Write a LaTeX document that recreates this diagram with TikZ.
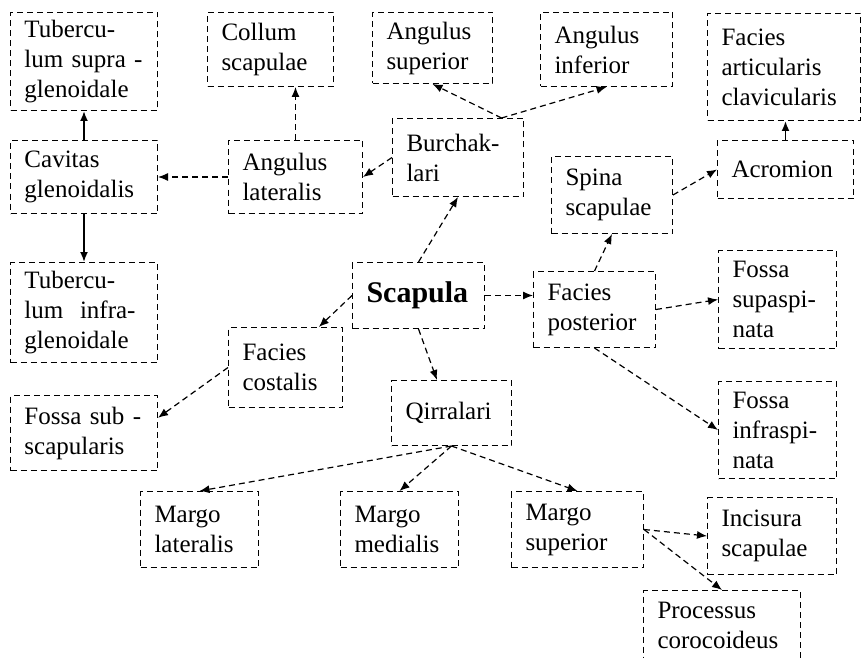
\documentclass[tikz,border=0pt]{standalone}
\usepackage{fontspec}
\setmainfont{Liberation Serif}
\usetikzlibrary{calc,arrows.meta}

\begin{document}
\begin{tikzpicture}[x=0.5pt,y=-0.5pt,
    box/.style 2 args={draw, densely dashed, line width=0.5pt, anchor=north west, align=left,
        inner xsep=7pt, inner ysep=1pt, text width=#1-4pt, minimum height=#2,
        font=\fontsize{12.5}{15}\selectfont},
    link/.style={densely dashed, line width=0.6pt, -{Latex[length=5pt,width=4pt]}},
    solidlink/.style={line width=0.9pt, -{Latex[length=5pt,width=4pt]}}]
    \useasboundingbox (0,0) rectangle (862,658);
    \node[box={63.5pt}{49pt}] (tsupra) at (10,12) {Tubercu-\\lum supra -\\glenoidale};
    \node[box={53pt}{37pt}] (collum) at (207,12) {Collum\\scapulae};
    \node[box={50pt}{35.5pt}] (angsup) at (372,12) {Angulus\\superior};
    \node[box={56pt}{37pt}] (anginf) at (540,12) {Angulus\\inferior};
    \node[box={66.5pt}{53.5pt}] (facart) at (707,13) {Facies\\articularis\\clavicularis};
    \node[box={63.5pt}{36.5pt}] (cavitas) at (10,140) {Cavitas\\glenoidalis};
    \node[box={57pt}{36.5pt}] (anglat) at (228,140) {Angulus\\lateralis};
    \node[box={55.5pt}{39pt}] (burch) at (392,118) {Burchak-\\lari};
    \node[box={50.5pt}{38.5pt}] (spina) at (551,156) {Spina\\scapulae};
    \node[box={58pt}{29pt}] (acromion) at (717,140) {Acromion};
    \node[box={63.5pt}{50pt}] (tinfra) at (10,262) {Tubercu-\\lum\ \ infra-\\glenoidale};
    \node[box={56pt}{33pt}, font=\fontsize{15}{18}\selectfont\bfseries] (scapula) at (352,262) {Scapula};
    \node[box={51pt}{38pt}] (facpost) at (533,271) {Facies\\posterior};
    \node[box={49pt}{49pt}] (fsupra) at (718,250) {Fossa\\supaspi-\\nata};
    \node[box={47pt}{40pt}] (faccost) at (228,327) {Facies\\costalis};
    \node[box={63.5pt}{37.5pt}] (fsub) at (10,395) {Fossa sub -\\scapularis};
    \node[box={50pt}{32.5pt}] (qirr) at (391,380) {Qirralari};
    \node[box={49pt}{48.5pt}] (finfra) at (718,381) {Fossa\\infraspi-\\nata};
    \node[box={49pt}{38pt}] (mlat) at (140,491) {Margo\\lateralis};
    \node[box={49pt}{38pt}] (mmed) at (340,491) {Margo\\medialis};
    \node[box={56pt}{38pt}] (msup) at (511,491) {Margo\\superior};
    \node[box={54.5pt}{38.5pt}] (incis) at (707,497) {Incisura\\scapulae};
    \node[box={68.5pt}{35pt}] (proc) at (643,590) {Processus\\corocoideus};

    \draw[solidlink] (cavitas.north) -- (tsupra.south);
    \draw[solidlink] (cavitas.south) -- (tinfra.north);
    \draw[link] (anglat.west) -- (cavitas.east);
    \draw[link] (anglat.north) -- (anglat.north |- collum.south);
    \draw[link] (burch.west) -- (anglat.east);
    \coordinate (btop) at ($(burch.north west)!0.83!(burch.north east)$);
    \draw[link] (btop) -- (angsup.south);
    \draw[link] (btop) -- (anginf.south);
    \draw[link] (scapula.north) -- (burch.south);
    \draw[link] (scapula.east) -- (scapula.east -| facpost.west);
    \draw[link] (scapula.west) -- ($(faccost.north west)!0.79!(faccost.north east)$);
    \draw[link] (scapula.south) -- ($(qirr.north west)!0.38!(qirr.north east)$);
    \draw[link] (facpost.north) -- (spina.south);
    \draw[link] (spina.east) -- (acromion.west);
    \draw[solidlink] (acromion.north) -- (acromion.north |- facart.south);
    \draw[link] (facpost.east) -- (fsupra.west);
    \draw[link] (facpost.south) -- (finfra.west);
    \draw[link] (faccost.west) -- ($(fsub.north east)!0.3!(fsub.south east)$);
    \draw[link] (qirr.south) -- (mlat.north);
    \draw[link] (qirr.south) -- (mmed.north);
    \draw[link] (qirr.south) -- (msup.north);
    \draw[link] (msup.east) -- (incis.west);
    \draw[link] (msup.east) -- (proc.north);
\end{tikzpicture}
\end{document}
